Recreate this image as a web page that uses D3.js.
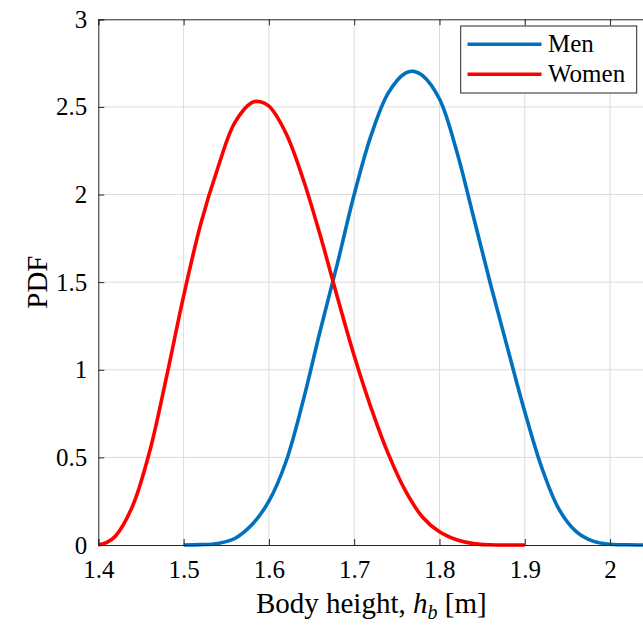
<!DOCTYPE html>
<html>
<head>
<meta charset='utf-8' />
<title>Body height PDF</title>
<style>
  body { margin: 0; background: #fff; }
  svg text { font-family: 'Liberation Serif', 'DejaVu Serif', serif; fill: #000; }
</style>
</head>
<body>
<div id="wrapper"></div>
<script src='https://d3js.org/d3.v7.min.js' charset='utf-8'></script>
<script>
  // values
  const menHeight = [1.50, 1.52, 1.54, 1.56, 1.58, 1.60, 1.62, 1.64, 1.66, 1.68, 1.70, 1.72, 1.74, 1.76, 1.77, 1.78,
    1.80, 1.82, 1.84, 1.86, 1.88, 1.90, 1.92, 1.94, 1.96, 1.98, 2.00, 2.02, 2.04]
  const menPdf = [0, 0.002, 0.009, 0.037, 0.115, 0.25, 0.475, 0.82, 1.22, 1.60, 2.0, 2.34, 2.58, 2.693, 2.703, 2.68,
    2.545, 2.25, 1.87, 1.485, 1.12, 0.76, 0.44, 0.205, 0.078, 0.022, 0.004, 0.001, 0]

  const womenHeight = [1.40, 1.41, 1.42, 1.44, 1.46, 1.48, 1.50, 1.52, 1.54, 1.56, 1.58, 1.59, 1.60, 1.62, 1.64, 1.66,
    1.68, 1.70, 1.72, 1.74, 1.76, 1.78, 1.80, 1.82, 1.84, 1.86, 1.88, 1.90]
  const womenPdf = [0, 0.015, 0.05, 0.22, 0.53, 0.96, 1.42, 1.83, 2.15, 2.41, 2.525, 2.53, 2.505, 2.35, 2.09, 1.77,
    1.42, 1.08, 0.78, 0.52, 0.31, 0.16, 0.075, 0.03, 0.008, 0.001, 0, 0]

  const xTicks = [1.4, 1.5, 1.6, 1.7, 1.8, 1.9, 2.0]
  const yTicks = [0, 0.5, 1, 1.5, 2, 2.5, 3]
  const seriesNames = ['Men', 'Women']
  const seriesColors = ['#0072BD', '#FF0000']

  const W = 643, H = 628
  const plotLeft = 98.3, plotRight = 644.2, plotTop = 19.3, plotBottom = 545

  const svg = d3.select('#wrapper')
    .append('svg')
      .attr('width', W)
      .attr('height', H)

  const x = d3.scaleLinear().domain([1.4, 2.04]).range([plotLeft, plotRight])
  const y = d3.scaleLinear().domain([0, 3]).range([plotBottom, plotTop])

  // grid
  svg.append('g')
    .selectAll('line')
    .data(xTicks.slice(1))
    .join('line')
      .attr('x1', d => x(d)).attr('x2', d => x(d))
      .attr('y1', plotTop).attr('y2', plotBottom)
      .attr('stroke', '#dcdcdc').attr('stroke-width', 1)
  svg.append('g')
    .selectAll('line')
    .data(yTicks.slice(1, -1))
    .join('line')
      .attr('x1', plotLeft).attr('x2', plotRight)
      .attr('y1', d => y(d)).attr('y2', d => y(d))
      .attr('stroke', '#dcdcdc').attr('stroke-width', 1)

  // curves
  const series = [
    menHeight.map((h, i) => [h, menPdf[i]]),
    womenHeight.map((h, i) => [h, womenPdf[i]])
  ]
  const line = d3.line()
    .x(d => x(d[0]))
    .y(d => y(d[1]))
    .curve(d3.curveCatmullRom.alpha(0.5))

  svg.append('g')
    .selectAll('path')
    .data(series)
    .join('path')
      .attr('d', line)
      .attr('fill', 'none')
      .attr('stroke', (d, i) => seriesColors[i])
      .attr('stroke-width', 3.6)
      .attr('stroke-linejoin', 'round')

  // axes (MATLAB style, ticks inside, box on)
  const xAxis = d3.axisBottom(x).tickValues(xTicks).tickSize(-6).tickPadding(15)
    .tickFormat(d => d3.format('~g')(d))
  const yAxis = d3.axisLeft(y).tickValues(yTicks).tickSize(-6).tickPadding(11)
    .tickFormat(d => d3.format('~g')(d))

  const gx = svg.append('g').attr('transform', `translate(0,${plotBottom})`).call(xAxis)
  const gy = svg.append('g').attr('transform', `translate(${plotLeft},0)`).call(yAxis)
  const gTop = svg.append('g').attr('transform', `translate(0,${plotTop})`)
    .call(d3.axisTop(x).tickValues(xTicks).tickSize(-6).tickFormat(''))

  ;[gx, gy, gTop].forEach(g => {
    g.select('.domain').attr('stroke', '#262626').attr('stroke-width', 1)
    g.selectAll('.tick line').attr('stroke', '#262626')
    g.selectAll('.tick text').style('font-size', '25px').attr('fill', '#000')
  })

  // axis labels
  const xl = svg.append('text')
    .attr('x', (plotLeft + plotRight) / 2)
    .attr('y', 613)
    .attr('text-anchor', 'middle')
    .style('font-size', '29px')
  xl.append('tspan').text('Body height, ')
  xl.append('tspan').text('h').style('font-style', 'italic')
  xl.append('tspan').text('b').style('font-style', 'italic').style('font-size', '20px').attr('dy', 6)
  xl.append('tspan').text(' [m]').attr('dy', -6)

  svg.append('text')
    .attr('transform', `translate(47,${(plotTop + plotBottom) / 2}) rotate(-90)`)
    .attr('text-anchor', 'middle')
    .style('font-size', '29px')
    .text('PDF')

  // legend
  const lg = svg.append('g')
  lg.append('rect')
    .attr('x', 460.7).attr('y', 26)
    .attr('width', 176).attr('height', 67)
    .attr('fill', '#fff').attr('stroke', '#262626').attr('stroke-width', 1)
  seriesNames.forEach((name, i) => {
    const ly = 44.3 + i * 30
    lg.append('line')
      .attr('x1', 467.5).attr('x2', 541.5)
      .attr('y1', ly).attr('y2', ly)
      .attr('stroke', seriesColors[i]).attr('stroke-width', 3.6)
    lg.append('text')
      .attr('x', 548).attr('y', ly + 8)
      .style('font-size', '25px')
      .text(name)
  })
</script>
</body>
</html>
